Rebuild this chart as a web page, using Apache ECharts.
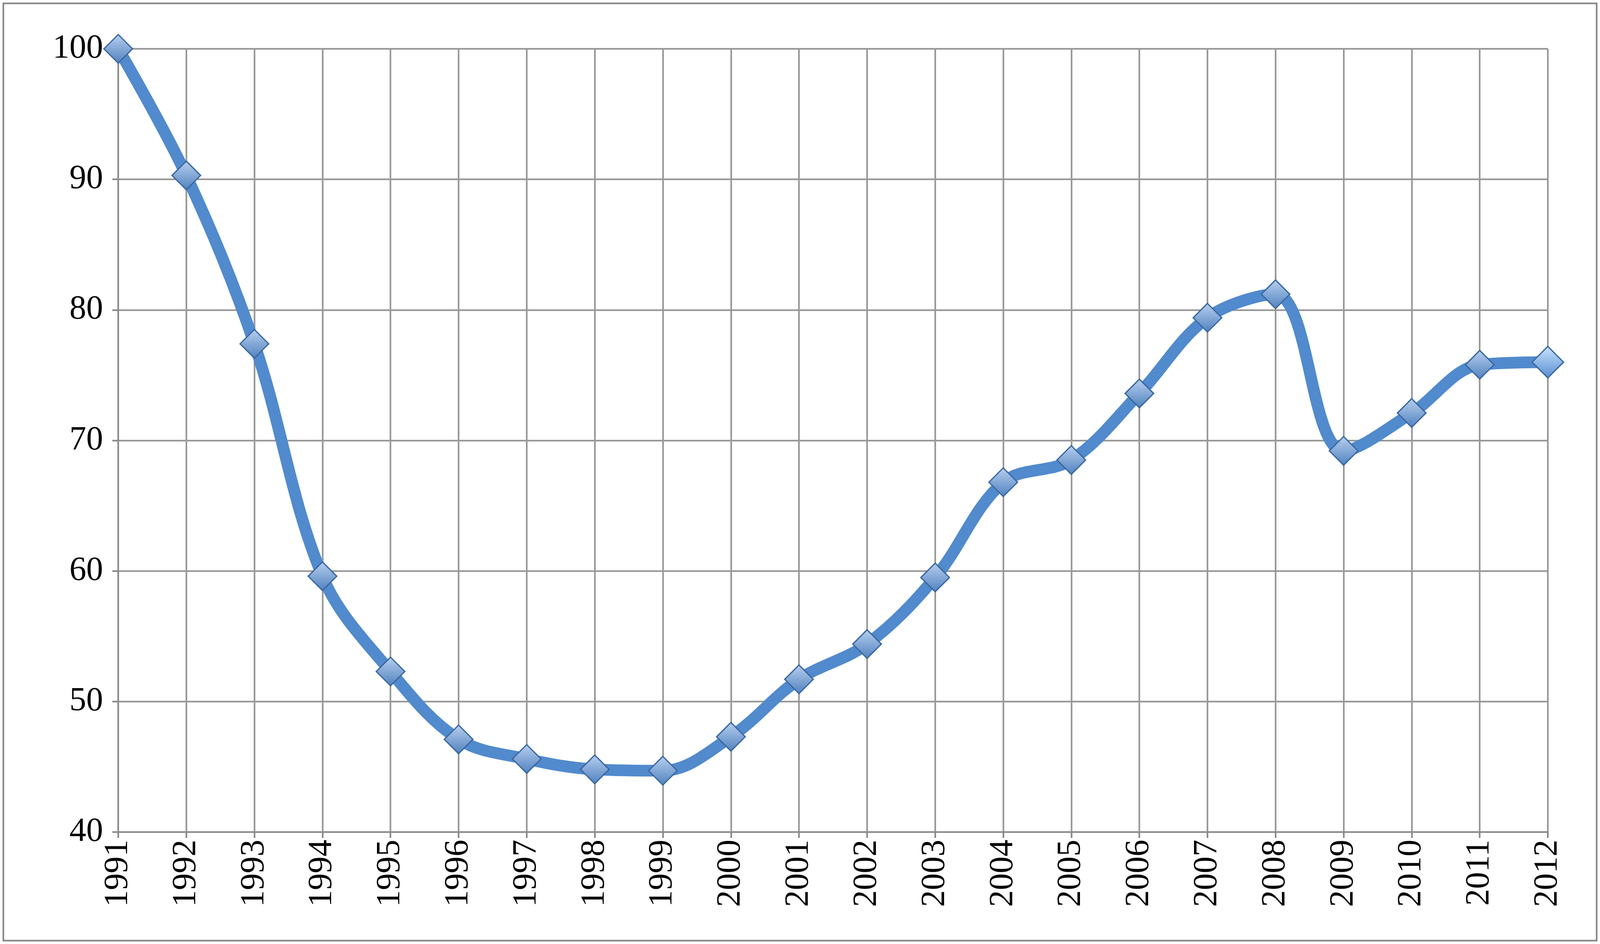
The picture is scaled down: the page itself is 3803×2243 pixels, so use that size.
<!DOCTYPE html>
<html>
<head>
<meta charset="utf-8">
<script src="https://cdn.jsdelivr.net/npm/echarts@6/dist/echarts.min.js"></script>
<style>html,body{margin:0;padding:0;background:#fff}#main{width:3803px;height:2243px}</style>
</head>
<body>
<div id="main"></div>
<script>
var years = ['1991','1992','1993','1994','1995','1996','1997','1998','1999','2000','2001',
  '2002','2003','2004','2005','2006','2007','2008','2009','2010','2011','2012'];
var values = [100, 90.3, 77.4, 59.6, 52.3, 47.1, 45.6, 44.8, 44.7, 47.3, 51.7,
  54.4, 59.5, 66.8, 68.5, 73.6, 79.4, 81.2, 69.2, 72.1, 75.8, 76.0];

var myChart = echarts.init(document.getElementById('main'));
var font = '"Liberation Serif", "Times New Roman", serif';
var option = {
  graphic: [{
    type: 'rect',
    shape: { x: 8, y: 8, width: 3787, height: 2227 },
    style: { fill: 'none', stroke: '#8c8c8c', lineWidth: 4 }
  }],
  grid: { left: 281, right: 124, top: 116, bottom: 266 },
  xAxis: {
    type: 'category',
    data: years,
    boundaryGap: false,
    axisLine: { lineStyle: { color: '#8c8c8c', width: 4 } },
    axisTick: { show: true, length: 14, lineStyle: { color: '#8c8c8c', width: 4 } },
    splitLine: { show: true, lineStyle: { color: '#9a9a9a', width: 4 } },
    axisLabel: { rotate: 90, color: '#000', fontFamily: font, fontSize: 80, margin: 18, interval: 0 }
  },
  yAxis: {
    type: 'value',
    min: 40, max: 100, interval: 10,
    axisLine: { show: true, lineStyle: { color: '#8c8c8c', width: 4 } },
    axisTick: { show: true, length: 14, lineStyle: { color: '#8c8c8c', width: 4 } },
    splitLine: { lineStyle: { color: '#9a9a9a', width: 4 } },
    axisLabel: { color: '#000', fontFamily: font, fontSize: 80, margin: 36 }
  },
  series: [{
    type: 'line',
    data: values,
    smooth: 0.35,
    symbol: 'diamond',
    symbolSize: 68,
    lineStyle: { color: '#4a7ebb', width: 28 },
    itemStyle: {
      color: new echarts.graphic.LinearGradient(0, 0, 0, 1, [
        { offset: 0, color: '#b9d0f0' },
        { offset: 1, color: '#4f81bd' }
      ]),
      borderColor: '#3a67a0',
      borderWidth: 3
    }
  }]
};
myChart.setOption(option);
</script>
</body>
</html>
